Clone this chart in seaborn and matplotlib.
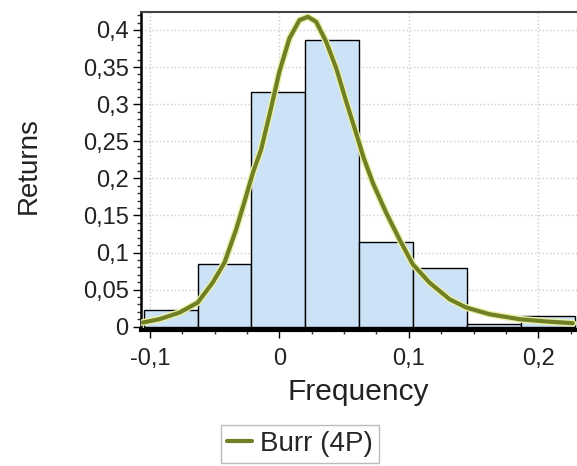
import matplotlib
matplotlib.use("Agg")
import matplotlib.pyplot as plt
import seaborn as sns
from matplotlib.ticker import MultipleLocator, FuncFormatter

# Histogram data (bin edges and heights)
bin_edges = [-0.105, -0.0633, -0.0217, 0.0200, 0.0617, 0.1033, 0.1450, 0.1867, 0.2283]
bin_heights = [0.0226, 0.085, 0.316, 0.387, 0.1145, 0.0795, 0.0034, 0.0145]

# Fitted Burr (4P) curve points
curve_x = [-0.1057, -0.0928, -0.0773, -0.0632, -0.0516, -0.0425, -0.0335, -0.0258,
           -0.0206, -0.0142, -0.0077, 0.0000, 0.0077, 0.0155, 0.0219, 0.0284,
           0.0361, 0.0439, 0.0516, 0.0580, 0.0650, 0.0722, 0.0825, 0.0928,
           0.1031, 0.1160, 0.1315, 0.1444, 0.1624, 0.1856, 0.2063, 0.2268]
curve_y = [0.0056, 0.0101, 0.0190, 0.0325, 0.0594, 0.0863, 0.1310, 0.1758,
           0.2070, 0.2386, 0.2856, 0.3440, 0.3887, 0.4133, 0.4178, 0.4110,
           0.3841, 0.3484, 0.3035, 0.2680, 0.2280, 0.1938, 0.1535, 0.1176,
           0.0840, 0.0594, 0.0370, 0.0258, 0.0168, 0.0101, 0.0070, 0.0047]

series_name = "Burr (4P)"
x_label = "Frequency"
y_label = "Returns"

sns.set_theme(style="white")
plt.rcParams['font.family'] = ['Liberation Sans', 'DejaVu Sans']

fig = plt.figure(figsize=(5.77, 4.66), dpi=100)
ax = fig.add_axes([0.2444, 0.2918, 0.7556, 0.6824])

centers = [(bin_edges[i] + bin_edges[i + 1]) / 2 for i in range(len(bin_heights))]
sns.histplot(x=centers, weights=bin_heights, bins=bin_edges, stat="count",
             color="#cce3f7", edgecolor="black", linewidth=1.0, alpha=1.0, ax=ax, zorder=2)

sns.lineplot(x=curve_x, y=curve_y, color="#eef0a8", linewidth=5.0, ax=ax, zorder=3,
             legend=False, sort=False)
sns.lineplot(x=curve_x, y=curve_y, color="#6f8026", linewidth=3.0, ax=ax, zorder=4,
             label=series_name, sort=False)

ax.set_xlim(-0.107, 0.230)
ax.set_ylim(-0.0045, 0.4242)

ax.xaxis.set_major_locator(MultipleLocator(0.1))
ax.xaxis.set_minor_locator(MultipleLocator(0.025))
ax.yaxis.set_major_locator(MultipleLocator(0.05))
ax.yaxis.set_minor_locator(MultipleLocator(0.01))

def fmt(v, pos):
    s = ("%.2f" % v).rstrip('0').rstrip('.')
    if s in ("-0", ""):
        s = "0"
    return s.replace('.', ',')

ax.xaxis.set_major_formatter(FuncFormatter(fmt))
ax.yaxis.set_major_formatter(FuncFormatter(fmt))

ax.tick_params(axis='both', which='major', direction='out', length=6, width=1,
               labelsize=17, colors='black', left=True, bottom=True)
ax.tick_params(axis='x', which='major', pad=7, labelcolor='#222222')
ax.tick_params(axis='y', which='major', pad=3, labelcolor='#222222')
ax.tick_params(axis='both', which='minor', direction='out', length=3, width=1,
               colors='#333333', left=True, bottom=True)

ax.grid(True, which='major', linestyle=':', color='#cccccc', linewidth=1.0, zorder=0)
ax.set_axisbelow(True)

ax.spines['left'].set_color('black')
ax.spines['left'].set_linewidth(1.8)
ax.spines['bottom'].set_color('black')
ax.spines['bottom'].set_linewidth(3.0)
ax.spines['top'].set_color('#444444')
ax.spines['top'].set_linewidth(1.5)
ax.spines['right'].set_visible(False)

ax.set_xlabel(x_label, fontsize=21.5, color='#222222')
ax.set_ylabel(y_label, fontsize=20, color='#222222')
ax.xaxis.set_label_coords(0.499, -0.150)
ax.yaxis.set_label_coords(-0.228, 0.516)

handles, labels = ax.get_legend_handles_labels()
ax.legend(handles, labels, loc='center', bbox_to_anchor=(0.52, 0.048),
          bbox_transform=fig.transFigure, fontsize=20, frameon=True,
          fancybox=False, edgecolor='#aaaaaa', handlelength=0.9, handletextpad=0.3,
          borderpad=0.22, borderaxespad=0)

fig.savefig("out.png", dpi=100)
